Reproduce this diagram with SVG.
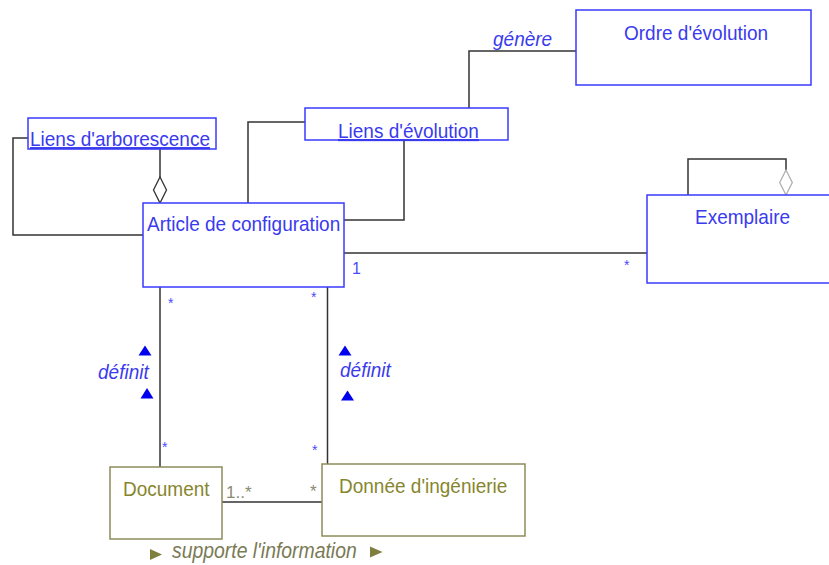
<svg xmlns="http://www.w3.org/2000/svg" width="829" height="565" viewBox="0 0 829 565">
  <style>
    text { font-family: "Liberation Sans", Arial, sans-serif; font-size: 19px; }
    .cls { fill: #ffffff; stroke: #3a3aff; stroke-width: 1.5; }
    .cls-o { fill: #ffffff; stroke: #8c8c5a; stroke-width: 1.5; }
    .name { fill: #3a3aee; }
    .name-o { fill: #86862e; }
    .link { fill: #3a3aee; text-decoration: underline; }
    .edge { fill: none; stroke: #333333; stroke-width: 1.5; }
    .role { fill: #3a3aee; font-style: italic; }
    .mult { fill: #4a4aff; font-size: 14px; }
    .mult-o { fill: #8a8a70; font-size: 17px; }
    .agg { fill: #ffffff; stroke: #333333; stroke-width: 1.3; }
    .agg-l { fill: #ffffff; stroke: #b0b0b0; stroke-width: 1.3; }
    .tri { fill: #0000ee; }
    .tri-o { fill: #7f7f3f; }
    .assoc-o { fill: #7a7a55; font-style: italic; }
  </style>

  <!-- connectors -->
  <g id="connectors">
    <!-- Liens d'arborescence loop to Article de configuration -->
    <path class="edge" d="M28,138 H13 V235 H143"/>
    <path class="edge" d="M160,149 V177"/>
    <polygon class="agg" points="160,177 166.5,190 160,203 153.5,190"/>
    <!-- Article to Liens d'évolution -->
    <path class="edge" d="M248,203 V122 H305"/>
    <path class="edge" d="M404,140 V220 H344"/>
    <!-- Liens d'évolution to Ordre d'évolution -->
    <path class="edge" d="M469,108 V51 H576"/>
    <text class="role" transform="translate(493,46) scale(1,1.1)">génère</text>
    <!-- Article to Exemplaire -->
    <path class="edge" d="M344,253 H647"/>
    <text class="mult" x="352" y="274" style="font-size:16px">1</text>
    <text class="mult" x="624" y="270">*</text>
    <!-- Exemplaire self aggregation -->
    <path class="edge" d="M688,195 V159 H786 V170"/>
    <polygon class="agg-l" points="786,170 792.3,182.5 786,195 779.7,182.5"/>
    <!-- Article to Document -->
    <path class="edge" d="M160,287 V467"/>
    <text class="mult" x="168" y="308">*</text>
    <text class="mult" x="162" y="452">*</text>
    <polygon class="tri" points="145,345.5 151.5,355.5 138.5,355.5"/>
    <text class="role" transform="translate(98,379) scale(1,1.1)">définit</text>
    <polygon class="tri" points="147,388 153.5,398.5 140.5,398.5"/>
    <!-- Article to Donnée d'ingénierie -->
    <path class="edge" d="M327.5,287 V464"/>
    <text class="mult" x="311" y="302">*</text>
    <text class="mult" x="312" y="455">*</text>
    <polygon class="tri" points="345,345.5 351.5,355.5 338.5,355.5"/>
    <text class="role" transform="translate(340,377) scale(1,1.1)">définit</text>
    <polygon class="tri" points="347.5,390.5 354,400.5 341,400.5"/>
    <!-- Document to Donnée d'ingénierie -->
    <path class="edge" d="M222,502 H322"/>
    <text class="mult-o" x="226" y="498">1..*</text>
    <text class="mult-o" x="310" y="497">*</text>
    <polygon class="tri-o" points="150,549 162,554.5 150,560"/>
    <text class="assoc-o" transform="translate(172,558) scale(1,1.1)" style="font-size:19.4px">supporte l'information</text>
    <polygon class="tri-o" points="370,546.5 382.5,552 370,557.5"/>
  </g>

  <g id="liens-arborescence">
    <rect class="cls" x="28" y="118" width="188" height="31"/>
    <text class="link" transform="translate(30,146) scale(1,1.1)">Liens d'arborescence</text>
  </g>

  <g id="article-configuration">
    <rect class="cls" x="143" y="203" width="201" height="84"/>
    <text class="name" transform="translate(147,231) scale(1,1.1)">Article de configuration</text>
  </g>

  <g id="liens-evolution">
    <rect class="cls" x="305" y="108" width="203" height="32"/>
    <text class="link" transform="translate(338,138) scale(1,1.1)">Liens d'évolution</text>
  </g>

  <g id="ordre-evolution">
    <rect class="cls" x="576" y="10" width="235" height="75"/>
    <text class="name" transform="translate(624,40) scale(1,1.1)">Ordre d'évolution</text>
  </g>

  <g id="exemplaire">
    <rect class="cls" x="647" y="195" width="190" height="88"/>
    <text class="name" transform="translate(695,224) scale(1,1.1)">Exemplaire</text>
  </g>

  <g id="document">
    <rect class="cls-o" x="110" y="467" width="112" height="72"/>
    <text class="name-o" transform="translate(123,496) scale(1,1.1)">Document</text>
  </g>

  <g id="donnee-ingenierie">
    <rect class="cls-o" x="322" y="464" width="203" height="72"/>
    <text class="name-o" transform="translate(339,493) scale(1,1.1)">Donnée d'ingénierie</text>
  </g>
</svg>
